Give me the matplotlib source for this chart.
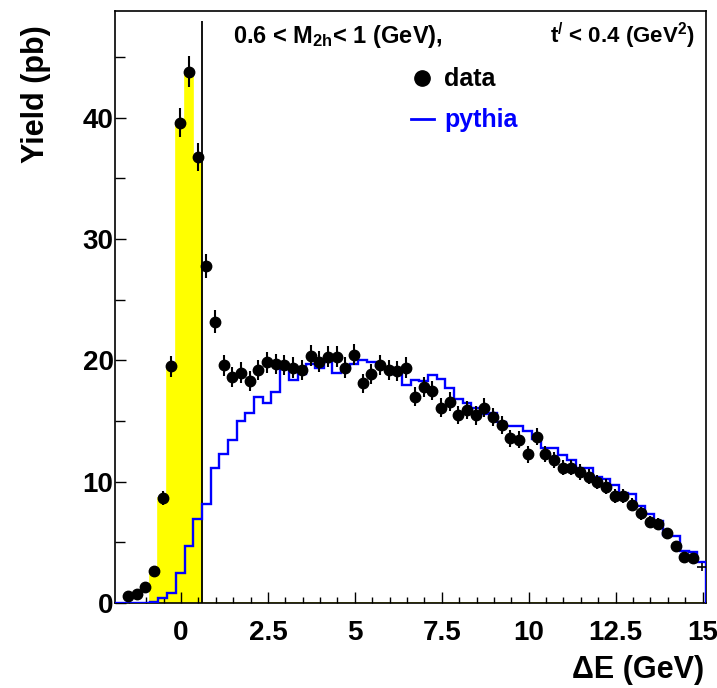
import matplotlib
matplotlib.use("Agg")
import matplotlib.pyplot as plt
import numpy as np
from matplotlib.lines import Line2D
from matplotlib.ticker import MultipleLocator

# ---------------- data ----------------
bin_low = -1.9
bin_width = 0.25
n_bins = 68

data_yield = [np.nan, 0.56, 0.73, 1.36, 2.65, 8.64, 19.5, 39.6, 43.8, 36.8,
              27.8, 23.2, 19.6, 18.6, 19.0, 18.3, 19.2, 19.85, 19.7, 19.6,
              19.4, 19.2, 20.4, 19.9, 20.3, 20.3, 19.4, 20.45, 18.1, 18.9,
              19.6, 19.2, 19.1, 19.4, 17.0, 17.8, 17.5, 16.1, 16.6, 15.5,
              15.9, 15.46, 16.1, 15.3, 14.7, 13.6, 13.45, 12.25, 13.7, 12.3,
              11.8, 11.15, 11.15, 10.8, 10.4, 9.96, 9.6, 8.8, 8.8, 8.1,
              7.4, 6.66, 6.5, 5.75, 4.7, 3.8, 3.7, 3.0]
data_err = [np.nan, 0.14, 0.16, 0.22, 0.31, 0.56, 0.84, 1.2, 1.26, 1.15,
            1.0, 0.92, 0.85, 0.82, 0.83, 0.81, 0.83, 0.85, 0.84, 0.84,
            0.84, 0.83, 0.86, 0.85, 0.86, 0.86, 0.84, 0.86, 0.81, 0.83,
            0.84, 0.83, 0.83, 0.84, 0.78, 0.80, 0.79, 0.76, 0.77, 0.75,
            0.76, 0.75, 0.76, 0.74, 0.73, 0.70, 0.70, 0.67, 0.70, 0.67,
            0.65, 0.63, 0.63, 0.62, 0.61, 0.60, 0.59, 0.56, 0.56, 0.54,
            0.52, 0.49, 0.48, 0.46, 0.41, 0.37, 0.37, 0.33]
signal_yield = [0, 0, 0, 0, 2.65, 8.64, 19.5, 39.6, 43.8, 36.8] + [0] * 58
pythia_yield = [0, 0, 0, 0, 0.07, 0.4, 0.84, 2.5, 4.7, 6.9,
                8.2, 11.1, 12.3, 13.4, 15.0, 15.7, 17.0, 16.5, 17.4, 19.3,
                18.4, 18.9, 19.7, 19.4, 19.9, 19.0, 19.4, 19.7, 20.05, 19.9,
                19.5, 19.4, 18.9, 18.0, 18.4, 18.3, 18.8, 18.5, 17.7, 16.8,
                16.5, 16.06, 15.6, 15.7, 14.9, 14.6, 14.6, 14.2, 13.5, 12.8,
                12.8, 12.16, 11.8, 11.1, 11.1, 10.4, 10.2, 9.7, 9.1, 9.0,
                8.0, 7.35, 6.8, 5.6, 5.5, 4.3, 4.2, 3.4]
cut_value = 0.6
cut_top = 48.0
x_ticks = [0, 2.5, 5, 7.5, 10, 12.5, 15]
x_ticklabels = ["0", "2.5", "5", "7.5", "10", "12.5", "15"]
y_ticks = [0, 10, 20, 30, 40]

# ---------------- fonts ----------------
plt.rcParams["font.family"] = ["Liberation Sans", "DejaVu Sans"]
plt.rcParams["font.weight"] = "bold"
plt.rcParams["mathtext.fontset"] = "custom"
plt.rcParams["mathtext.rm"] = "Liberation Sans:bold"
plt.rcParams["mathtext.bf"] = "Liberation Sans:bold"
plt.rcParams["mathtext.it"] = "Liberation Sans:bold"
plt.rcParams["mathtext.default"] = "bf"

edges = bin_low + bin_width * np.arange(n_bins + 1)
centers = 0.5 * (edges[:-1] + edges[1:])
data_yield = np.array(data_yield, dtype=float)
data_err = np.array(data_err, dtype=float)

fig = plt.figure(figsize=(7.17, 6.88), dpi=100)
ax = fig.add_axes([115 / 717, 1 - 603 / 688, (706 - 115) / 717, (603 - 11) / 688])

# yellow signal histogram
ax.stairs(signal_yield, edges, fill=True, facecolor="#ffff00", edgecolor="#ffff00",
          linewidth=1.2, zorder=1)
# cut line
ax.vlines(cut_value, 0, cut_top, color="black", linewidth=1.3, zorder=2)
# pythia
ax.stairs(pythia_yield, edges, baseline=0, fill=False, color="#0000ff",
          linewidth=1.7, zorder=3)
# data points
ax.errorbar(centers[:-1], data_yield[:-1], yerr=data_err[:-1], xerr=bin_width / 2,
            fmt="o", color="black", markersize=7.5, elinewidth=1.5, capsize=0, zorder=4)
ax.errorbar(centers[-1:], data_yield[-1:], yerr=data_err[-1:], xerr=bin_width / 2,
            fmt="none", ecolor="black", elinewidth=1.2, capsize=0, zorder=4)

ax.set_xlim(edges[0], edges[-1])
ax.set_ylim(0, 48.8)

ax.xaxis.set_major_locator(plt.FixedLocator(x_ticks))
ax.xaxis.set_major_formatter(plt.FixedFormatter(x_ticklabels))
ax.xaxis.set_minor_locator(MultipleLocator(0.5))
ax.yaxis.set_major_locator(plt.FixedLocator(y_ticks))
ax.yaxis.set_minor_locator(MultipleLocator(5))
ax.tick_params(axis="both", which="both", direction="in", top=False, right=False,
               labelsize=20, width=1.0, color="black")
ax.tick_params(axis="x", which="major", length=8, pad=12)
ax.tick_params(axis="x", which="minor", length=4)
ax.tick_params(axis="y", which="major", length=8, pad=1)
ax.tick_params(axis="y", which="minor", length=7)
for lab in ax.get_xticklabels() + ax.get_yticklabels():
    lab.set_fontweight("bold")
for s in ax.spines.values():
    s.set_linewidth(1.2)

ax.set_ylabel("Yield (pb)", fontsize=22, fontweight="bold")
ax.yaxis.set_label_coords(-0.134, 0.86)
ax.yaxis.label.set_va("center")
ax.yaxis.label.set_ha("center")
ax.set_xlabel("\u0394E (GeV)", fontsize=22, fontweight="bold")
ax.xaxis.set_label_coords(0.885, -0.113)
ax.xaxis.label.set_va("center")
ax.xaxis.label.set_ha("center")

ax.text(0.2, 0.946, "0.6 < M$_{2h}$< 1 (GeV),", transform=ax.transAxes,
        fontsize=17, fontweight="bold", ha="left", va="baseline")
ax.text(0.98, 0.946, "t$^{/}$ < 0.4 (GeV$^{2}$)", transform=ax.transAxes,
        fontsize=16, fontweight="bold", ha="right", va="baseline")

handles = [Line2D([], [], marker="o", color="black", linestyle="none", markersize=11),
           Line2D([], [], color="#0000ff", linewidth=2.0)]
leg = ax.legend(handles, ["data", "pythia"], loc="upper left",
                bbox_to_anchor=(0.501, 0.9047), frameon=False, fontsize=18,
                handlelength=0.9, handletextpad=0.42, labelspacing=0.68,
                borderaxespad=0, borderpad=0)
for t in leg.get_texts():
    t.set_fontweight("bold")
leg.get_texts()[1].set_color("#0000ff")

fig.savefig("out.png", dpi=100)
